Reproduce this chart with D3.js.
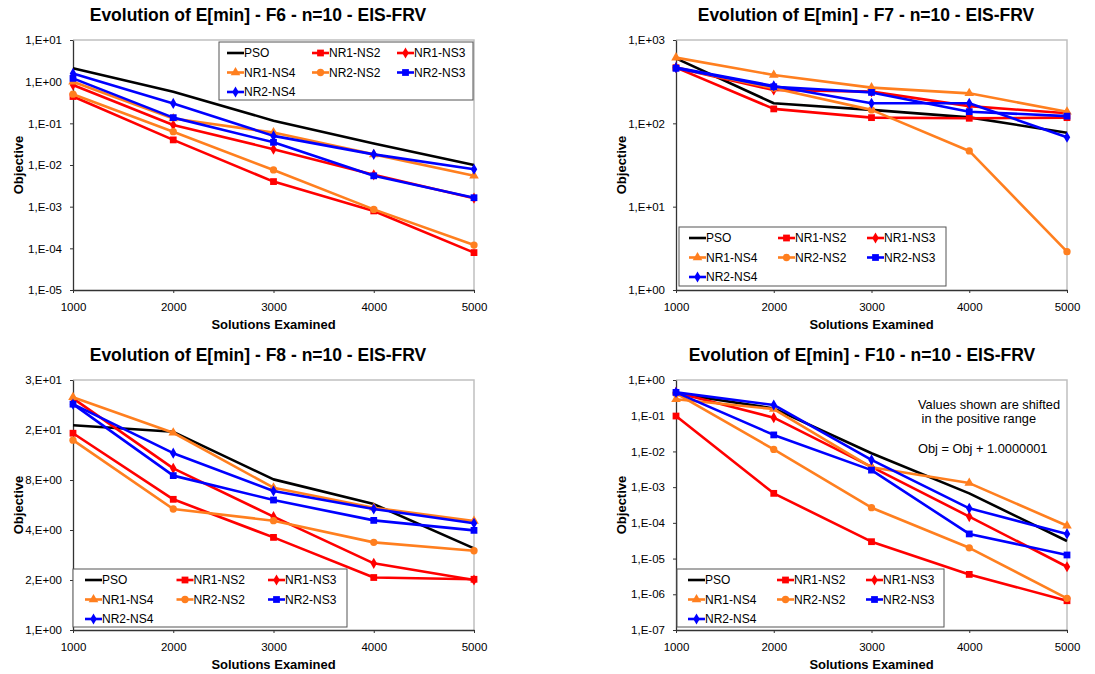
<!DOCTYPE html>
<html>
<head>
<meta charset="utf-8">
<script src="https://cdn.jsdelivr.net/npm/d3@7"></script>
<style>
body { margin: 0; background: #fff; }
svg { font-family: "Liberation Sans", Arial, sans-serif; }
</style>
</head>
<body>
<svg id="svg" width="1095" height="674"></svg>
<script>
// solutions examined
var xValues = [1000, 2000, 3000, 4000, 5000];

var seriesNames = ["PSO", "NR1-NS2", "NR1-NS3", "NR1-NS4", "NR2-NS2", "NR2-NS3", "NR2-NS4"];
var seriesColors = ["#000000", "#ff0000", "#ff0000", "#ff7f1f", "#ff7f1f", "#0000ff", "#0000ff"];
var seriesMarkers = ["none", "square", "diamond", "triangle", "circle", "square", "diamond"];

// values per panel, same order as seriesNames
var f6Values = [
    [2.09, 0.575, 0.116, 0.033, 0.0100],
    [0.44, 0.040, 0.0040, 0.00079, 0.000079],
    [0.83, 0.091, 0.024, 0.0058, 0.0016],
    [1.00, 0.130, 0.060, 0.018, 0.0055],
    [0.50, 0.063, 0.0076, 0.00086, 0.00012],
    [1.20, 0.137, 0.035, 0.0055, 0.00164],
    [1.58, 0.300, 0.050, 0.018, 0.0079]
];
var f7Values = [
    [603, 174, 145, 118, 77],
    [466, 149, 117, 115, 117],
    [466, 251, 240, 161, 132],
    [614, 380, 268, 229, 138],
    [466, 263, 145, 46.6, 2.88],
    [457, 275, 235, 138, 122],
    [466, 281, 174, 174, 68]
];
var f8Values = [
    [17.1, 15.6, 8.07, 5.73, 3.1],
    [15.3, 6.12, 3.61, 2.07, 2.02],
    [24.8, 9.4, 4.81, 2.52, 2.0],
    [25.2, 15.4, 7.19, 5.45, 4.53],
    [13.9, 5.35, 4.55, 3.37, 3.0],
    [22.9, 8.5, 6.06, 4.57, 3.98],
    [22.9, 11.6, 6.87, 5.35, 4.39]
];
var f10Values = [
    [0.42, 0.16, 0.0089, 6.7e-4, 3.1e-5],
    [0.098, 6.7e-4, 2.97e-5, 3.6e-6, 6.6e-7],
    [0.45, 0.088, 0.0037, 1.5e-4, 5.9e-6],
    [0.29, 0.154, 0.0036, 0.0013, 8.3e-5],
    [0.42, 0.0114, 2.66e-4, 2.0e-5, 7.7e-7],
    [0.45, 0.029, 0.0030, 4.9e-5, 1.26e-5],
    [0.45, 0.20, 0.0058, 2.55e-4, 4.9e-5]
];

var f6Ticks = [1e-5, 1e-4, 1e-3, 1e-2, 1e-1, 1, 10];
var f7Ticks = [1, 10, 100, 1000];
var f8Ticks = [1, 2, 4, 8, 16, 32];
var f10Ticks = [1e-7, 1e-6, 1e-5, 1e-4, 1e-3, 1e-2, 1e-1, 1];

var f10Note = ["Values shown are shifted", " in the positive range", "", "Obj = Obj + 1.0000001"];

var svg = d3.select("#svg");

function sciLabel(v) {
    var e = Math.floor(Math.log10(v) + 1e-9);
    var m = Math.round(v / Math.pow(10, e));
    if (m == 10) { m = 1; e += 1; }
    var s = e < 0 ? "-" : "+";
    return m + ",E" + s + String(Math.abs(e)).padStart(2, "0");
}

function markerPath(type) {
    if (type == "square") return d3.symbol(d3.symbolSquare, 46)();
    if (type == "diamond") return d3.symbol(d3.symbolDiamond, 36)();
    if (type == "triangle") return d3.symbol(d3.symbolTriangle, 40)();
    if (type == "circle") return d3.symbol(d3.symbolCircle, 42)();
    return null;
}

function drawPanel(p) {
    var g = svg.append("g");
    var xScale = d3.scaleLinear().domain([1000, 5000]).range([p.x0, p.x1]);
    var yScale = d3.scaleLog().base(p.base).domain(p.domain).range([p.y1, p.y0]);

    // plot area frame (light top/right)
    g.append("path")
        .attr("d", `M${p.x0},${p.y0}H${p.x1}V${p.y1}`)
        .attr("fill", "none")
        .attr("stroke", "#c0c0c0")
        .attr("stroke-width", 1.5);

    var yAxis = g.append("g")
        .attr("transform", `translate(${p.x0},0)`)
        .call(d3.axisLeft(yScale).tickValues(p.ticks).tickFormat(sciLabel).tickSize(3).tickSizeOuter(0).tickPadding(8));
    var xAxis = g.append("g")
        .attr("transform", `translate(0,${p.y1})`)
        .call(d3.axisBottom(xScale).tickValues(xValues).tickFormat(d3.format("d")).tickSize(3).tickSizeOuter(0).tickPadding(10));
    [yAxis, xAxis].forEach(a => {
        a.select(".domain").attr("stroke", "#333").attr("stroke-width", 1.3);
        a.selectAll(".tick line").attr("stroke", "#333");
        a.selectAll(".tick text").attr("fill", "#000").style("font-size", "11.5px").style("font-family", "Liberation Sans, Arial, sans-serif");
    });

    // series
    var line = d3.line()
        .x((d, i) => xScale(xValues[i]))
        .y(d => yScale(d));
    p.values.forEach((vals, s) => {
        g.append("path")
            .datum(vals)
            .attr("fill", "none")
            .attr("stroke", seriesColors[s])
            .attr("stroke-width", 2.6)
            .attr("stroke-linejoin", "round")
            .attr("d", line);
        if (seriesMarkers[s] != "none") {
            g.selectAll(null)
                .data(vals)
                .join("path")
                .attr("transform", (d, i) => `translate(${xScale(xValues[i])},${yScale(d)})`)
                .attr("d", markerPath(seriesMarkers[s]))
                .attr("fill", seriesColors[s]);
        }
    });

    // legend
    var lg = g.append("g");
    lg.append("rect")
        .attr("x", p.lx).attr("y", p.ly)
        .attr("width", p.lw).attr("height", p.lh)
        .attr("fill", "#fff")
        .attr("stroke", "#555")
        .attr("stroke-width", 1);
    seriesNames.forEach((name, s) => {
        var col = s % 3, row = Math.floor(s / 3);
        var lx = p.lx + p.lpad + col * p.lcol;
        var ly = p.ly + 11 + row * 19.5;
        lg.append("line")
            .attr("x1", lx).attr("x2", lx + 17)
            .attr("y1", ly).attr("y2", ly)
            .attr("stroke", seriesColors[s])
            .attr("stroke-width", 2.6);
        if (seriesMarkers[s] != "none") {
            lg.append("path")
                .attr("transform", `translate(${lx + 8.5},${ly})`)
                .attr("d", markerPath(seriesMarkers[s]))
                .attr("fill", seriesColors[s]);
        }
        lg.append("text")
            .attr("x", lx + 17).attr("y", ly + 4.3)
            .style("font-size", "12px")
            .text(name);
    });

    // titles
    g.append("text")
        .attr("x", p.tx).attr("y", p.y0 - 19)
        .attr("text-anchor", "middle")
        .style("font-size", "17.5px").style("font-weight", "bold")
        .text(p.title);
    g.append("text")
        .attr("x", (p.x0 + p.x1) / 2).attr("y", p.y1 + 38.5)
        .attr("text-anchor", "middle")
        .style("font-size", "13px").style("font-weight", "bold")
        .text("Solutions Examined");
    g.append("text")
        .attr("transform", `translate(${p.x0 - 50.5},${(p.y0 + p.y1) / 2 + 0}) rotate(-90)`)
        .attr("text-anchor", "middle")
        .style("font-size", "13px").style("font-weight", "bold")
        .text("Objective");

    if (p.note) {
        p.note.forEach((t, i) => {
            g.append("text")
                .attr("x", p.nx).attr("y", p.ny + i * 14.7)
                .style("font-size", "12.8px")
                .style("white-space", "pre")
                .text(t);
        });
    }
}

drawPanel({ title: "Evolution of E[min] - F6 - n=10 - EIS-FRV", values: f6Values, ticks: f6Ticks,
    base: 10, domain: [1e-5, 10], x0: 73, x1: 474, y0: 40, y1: 290, tx: 258,
    lx: 219, ly: 42, lw: 254, lh: 58, lpad: 8, lcol: 85 });
drawPanel({ title: "Evolution of E[min] - F7 - n=10 - EIS-FRV", values: f7Values, ticks: f7Ticks,
    base: 10, domain: [1, 1000], x0: 676, x1: 1067, y0: 40, y1: 290, tx: 866,
    lx: 679, ly: 227, lw: 267, lh: 59, lpad: 10, lcol: 89 });
drawPanel({ title: "Evolution of E[min] - F8 - n=10 - EIS-FRV", values: f8Values, ticks: f8Ticks,
    base: 2, domain: [1, 32], x0: 73, x1: 474, y0: 380, y1: 630, tx: 258,
    lx: 73, ly: 569, lw: 274, lh: 58, lpad: 12, lcol: 91.5 });
drawPanel({ title: "Evolution of E[min] - F10 - n=10 - EIS-FRV", values: f10Values, ticks: f10Ticks,
    base: 10, domain: [1e-7, 1], x0: 676, x1: 1067, y0: 380, y1: 630, tx: 862,
    lx: 677, ly: 569, lw: 267, lh: 58, lpad: 11, lcol: 89,
    note: f10Note, nx: 918, ny: 408.5 });
</script>
</body>
</html>
